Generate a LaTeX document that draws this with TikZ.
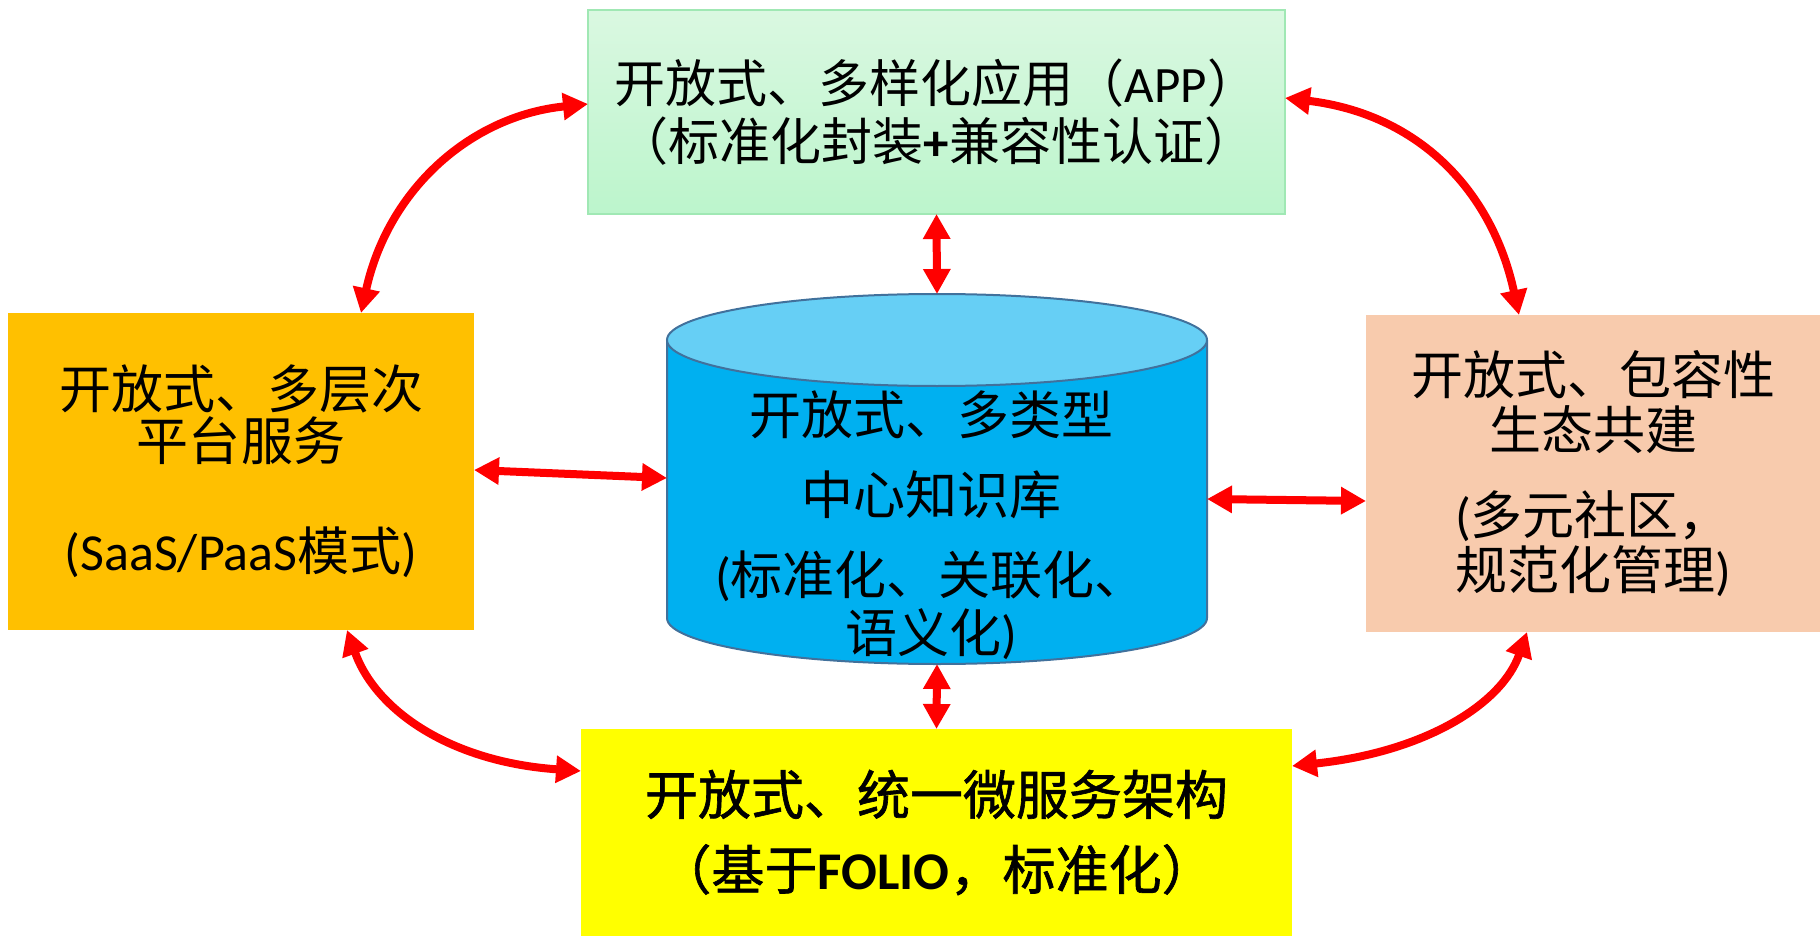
\documentclass[tikz,border=0pt]{standalone}
\usepackage{fontspec}
\setmainfont{Noto Sans CJK SC}
\newfontfamily\lat{Carlito}
\newfontfamily\cjkheavy[FakeBold=1.2]{Noto Sans CJK SC}
\usetikzlibrary{arrows.meta,calc}
\newcommand\la[1]{{\lat #1}}

\definecolor{appgreenA}{RGB}{218,248,225}
\definecolor{appgreenB}{RGB}{188,245,204}
\definecolor{appedge}{RGB}{160,232,180}
\definecolor{platorange}{RGB}{255,192,0}
\definecolor{ecopeach}{RGB}{248,203,173}
\definecolor{msyellow}{RGB}{255,255,0}
\definecolor{kbbody}{RGB}{0,176,240}
\definecolor{kbtop}{RGB}{102,207,245}
\definecolor{kbedge}{RGB}{65,113,156}
\definecolor{linkred}{RGB}{255,0,0}

\begin{document}
\begin{tikzpicture}[x=0.5pt,y=-0.5pt,
  panel/.style={rectangle, inner sep=0pt, outer sep=0pt, align=center, text=black},
  link/.style={draw=linkred, line width=4pt,
    arrows={Triangle[length=12.5pt,width=13pt]-Triangle[length=12.5pt,width=13pt]}}
]
\useasboundingbox (0,0) rectangle (1820,936);

% application layer (top)
\node[panel, top color=appgreenA, bottom color=appgreenB, draw=appedge, line width=0.8pt,
      minimum width=348.5pt, minimum height=102pt,
      font=\fontsize{25.5}{29}\selectfont] (app) at (936.5,112)
  {开放式、多样化应用（\la{APP}）\\（标准化封装\la{\bfseries+}兼容性认证）};

% platform services (left)
\node[panel, fill=platorange, minimum width=233pt, minimum height=158.5pt,
      font=\fontsize{26}{26}\selectfont] (plat) at (241,471.5)
  {开放式、多层次\\平台服务\\[29pt]\la{(SaaS/PaaS}模式\la{)}};

% ecosystem (right)
\node[panel, fill=ecopeach, minimum width=227pt, minimum height=158.5pt,
      font=\fontsize{26}{27.5}\selectfont] (eco) at (1593,473.5)
  {开放式、包容性\\生态共建\\[15pt]\la{(}多元社区，\\规范化管理\la{)}};

% microservice architecture (bottom)
\node[panel, fill=msyellow, minimum width=355.5pt, minimum height=103.5pt,
      font=\fontsize{26.5}{37.5}\selectfont] (ms) at (936.5,832.5)
  {{\cjkheavy 开放式、统一微服务架构}\\{\cjkheavy （基于}\la{\bfseries FOLIO}{\cjkheavy ，标准化）}};

% central knowledge base (cylinder)
\fill[kbbody] (667,340) rectangle (1207,618);
\fill[kbbody] (937,618) ellipse [x radius=270, y radius=46];
\draw[kbedge, line width=1pt] (667,340) -- (667,618)
  .. controls (667,643.4) and (787.9,664) .. (937,664)
  .. controls (1086.1,664) and (1207,643.4) .. (1207,618) -- (1207,340);
\filldraw[fill=kbtop, draw=kbedge, line width=1pt] (937,340) ellipse [x radius=270, y radius=46];
\node[rectangle, inner sep=0pt, outer sep=0pt, minimum width=270pt, minimum height=185pt] (kb) at (937,479) {};
\node[panel, font=\fontsize{26}{29}\selectfont] (kbtext) at (931,525)
  {开放式、多类型\\[11pt]中心知识库\\[11pt]\la{(}标准化、关联化、\\语义化\la{)}};

% straight links
\draw[link] (app.south) -- (kb.north);
\draw[link] (kb.south) -- (ms.north);
\draw[link] (plat.east |- 0,470) -- (kb.west |- 0,478);
\draw[link] (kb.east |- 0,499) -- (eco.west |- 0,501);

% curved links around the ring
\draw[link] (361,0 |- plat.north) .. controls (388,190) and (470,116) .. (app.west |- 0,104);
\draw[link] (app.east |- 0,98) .. controls (1418,114) and (1492,190) .. (1519,0 |- eco.north);
\draw[link] (347,0 |- plat.south) .. controls (376,711) and (451,762) .. (ms.west |- 0,771);
\draw[link] (ms.east |- 0,766) .. controls (1425,752) and (1502,704) .. (1527,0 |- eco.south);
\end{tikzpicture}
\end{document}
